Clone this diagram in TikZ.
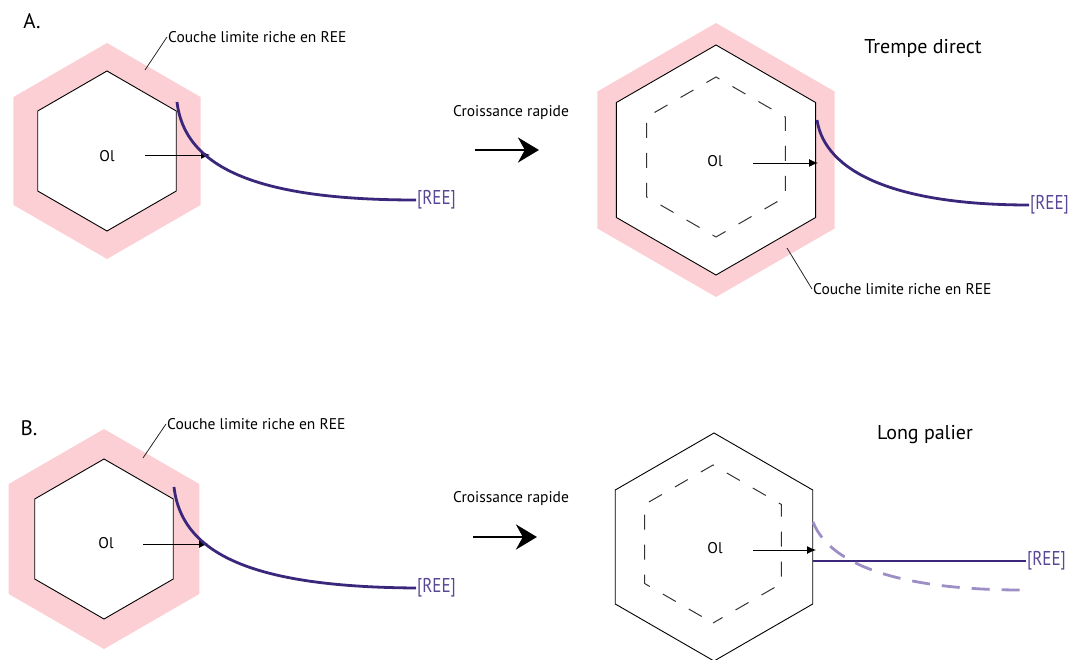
\documentclass[tikz,border=0pt]{standalone}
\usepackage{fontspec}
\setmainfont{PT Sans}
\newfontfamily\reefont[FakeStretch=0.85]{PT Sans}
\usetikzlibrary{arrows.meta,positioning,calc}
\definecolor{pinkree}{RGB}{251,207,212}
\definecolor{reeline}{RGB}{58,38,122}
\definecolor{reetxt}{RGB}{90,70,150}
\definecolor{reepale}{RGB}{158,142,198}
% hexagone (pointe en haut) de centre #1 et de rayon #2
\newcommand{\hexa}[2]{($(#1)+(90:#2)$) -- ($(#1)+(30:#2)$) -- ($(#1)+(-30:#2)$) -- ($(#1)+(-90:#2)$) -- ($(#1)+(-150:#2)$) -- ($(#1)+(150:#2)$) -- cycle}

\begin{document}
\begin{tikzpicture}[x=1pt,y=-1pt,>=Latex,
  every node/.style={font=\fontsize{15.5}{17}\selectfont,inner sep=1pt},
  couche/.style={fill=pinkree,draw=none},
  grain/.style={fill=white,draw=black,line width=0.9pt,line join=miter},
  ancien/.style={draw=black!80,line width=1pt,dash pattern=on 15pt off 15pt,dash phase=4pt},
  profil/.style={draw=reeline,line width=2.8pt},
  profilold/.style={draw=reepale,line width=2.8pt,dash pattern=on 18pt off 12pt},
  flux/.style={-{Latex[length=9pt,width=8pt]},line width=0.9pt},
  etape/.style={-{Stealth[length=21pt,width=25pt]},line width=2.4pt},
  rappel/.style={draw=black!85,line width=0.8pt},
  ree/.style={text=reetxt,font=\reefont\fontsize{20}{22}\selectfont,anchor=west},
  titre/.style={font=\fontsize{20}{22}\selectfont},
  lettre/.style={font=\fontsize{21}{23}\selectfont}]
\useasboundingbox (0,0) rectangle (1074,660);

% centres des grains
\coordinate (cAl) at (107,151);
\coordinate (cAr) at (716,160);
\coordinate (oAr) at (716,157);
\coordinate (cBl) at (104,539);
\coordinate (cBr) at (714,547);
\coordinate (oBr) at (713,544);

%% A.
\node (labA) [lettre] at (32,21) {A.};
\fill[couche] \hexa{cAl}{108};
\draw[grain] \hexa{cAl}{80};
\node (olAl) at (107,156) {Ol};
\coordinate (gAl) at (145,155);
\coordinate (fAl) at (210,155);
\draw[flux] (gAl) -- (fAl);
\node (reeAl) [ree] at (416,200) {[REE]};
\coordinate (sAl) at (177,102);
\draw[profil] (sAl) .. controls (185,170) and (262,200) .. (reeAl.west);
\node (coucheAl) [anchor=west] at (167,37) {Couche limite riche en REE};
\coordinate (pAl) at (145,70);
\draw[rappel] (pAl) -- (coucheAl.west);

\node (croisA) at (511,113) {Croissance rapide};
\coordinate (aA1) at (475,150);
\coordinate (aA2) at (539,150);
\draw[etape] (aA1) -- (aA2);

\node (trempe) [titre] at (923,48) {Trempe direct};
\fill[couche] \hexa{cAr}{137};
\draw[grain] \hexa{cAr}{115};
\draw[ancien] \hexa{oAr}{80};
\node (olAr) at (715,161) {Ol};
\coordinate (gAr) at (753,163);
\coordinate (fAr) at (818,163);
\draw[flux] (gAr) -- (fAr);
\node (reeAr) [ree] at (1029,205) {[REE]};
\coordinate (sAr) at (817,120);
\draw[profil] (sAr) .. controls (825,172) and (895,205) .. (reeAr.west);
\node (coucheAr) [anchor=west] at (812,289) {Couche limite riche en REE};
\coordinate (pAr) at (787,248);
\draw[rappel] (pAr) -- (coucheAr.west);

%% B.
\node (labB) [lettre] at (29,428) {B.};
\fill[couche] \hexa{cBl}{110};
\draw[grain] \hexa{cBl}{80};
\node (olBl) at (106,543) {Ol};
\coordinate (gBl) at (143,544);
\coordinate (fBl) at (208,544);
\draw[flux] (gBl) -- (fBl);
\node (reeBl) [ree] at (416,588) {[REE]};
\coordinate (sBl) at (174,487);
\draw[profil] (sBl) .. controls (182,557) and (259,587) .. (reeBl.west);
\node (coucheBl) [anchor=west] at (166,424) {Couche limite riche en REE};
\coordinate (pBl) at (143,458);
\draw[rappel] (pBl) -- (coucheBl.west);

\node (croisB) at (511,499) {Croissance rapide};
\coordinate (aB1) at (473,537);
\coordinate (aB2) at (537,537);
\draw[etape] (aB1) -- (aB2);

\node (palier) [titre] at (925,435) {Long palier};
\draw[grain] \hexa{cBr}{114};
\draw[ancien] \hexa{oBr}{79};
\node (olBr) at (715,548) {Ol};
\coordinate (gBr) at (753,550);
\coordinate (fBr) at (816,550);
\draw[flux] (gBr) -- (fBr);
\node (reeBr) [ree] at (1026,561) {[REE]};
\coordinate (sBr) at (813,561);
\draw[profil,line width=2.5pt] (sBr) -- (reeBr.west);
\coordinate (dBr) at (813,522);
\coordinate (eBr) at (1022,590);
\draw[profilold] (dBr) .. controls (830,565) and (900,590) .. (eBr);
\end{tikzpicture}
\end{document}
